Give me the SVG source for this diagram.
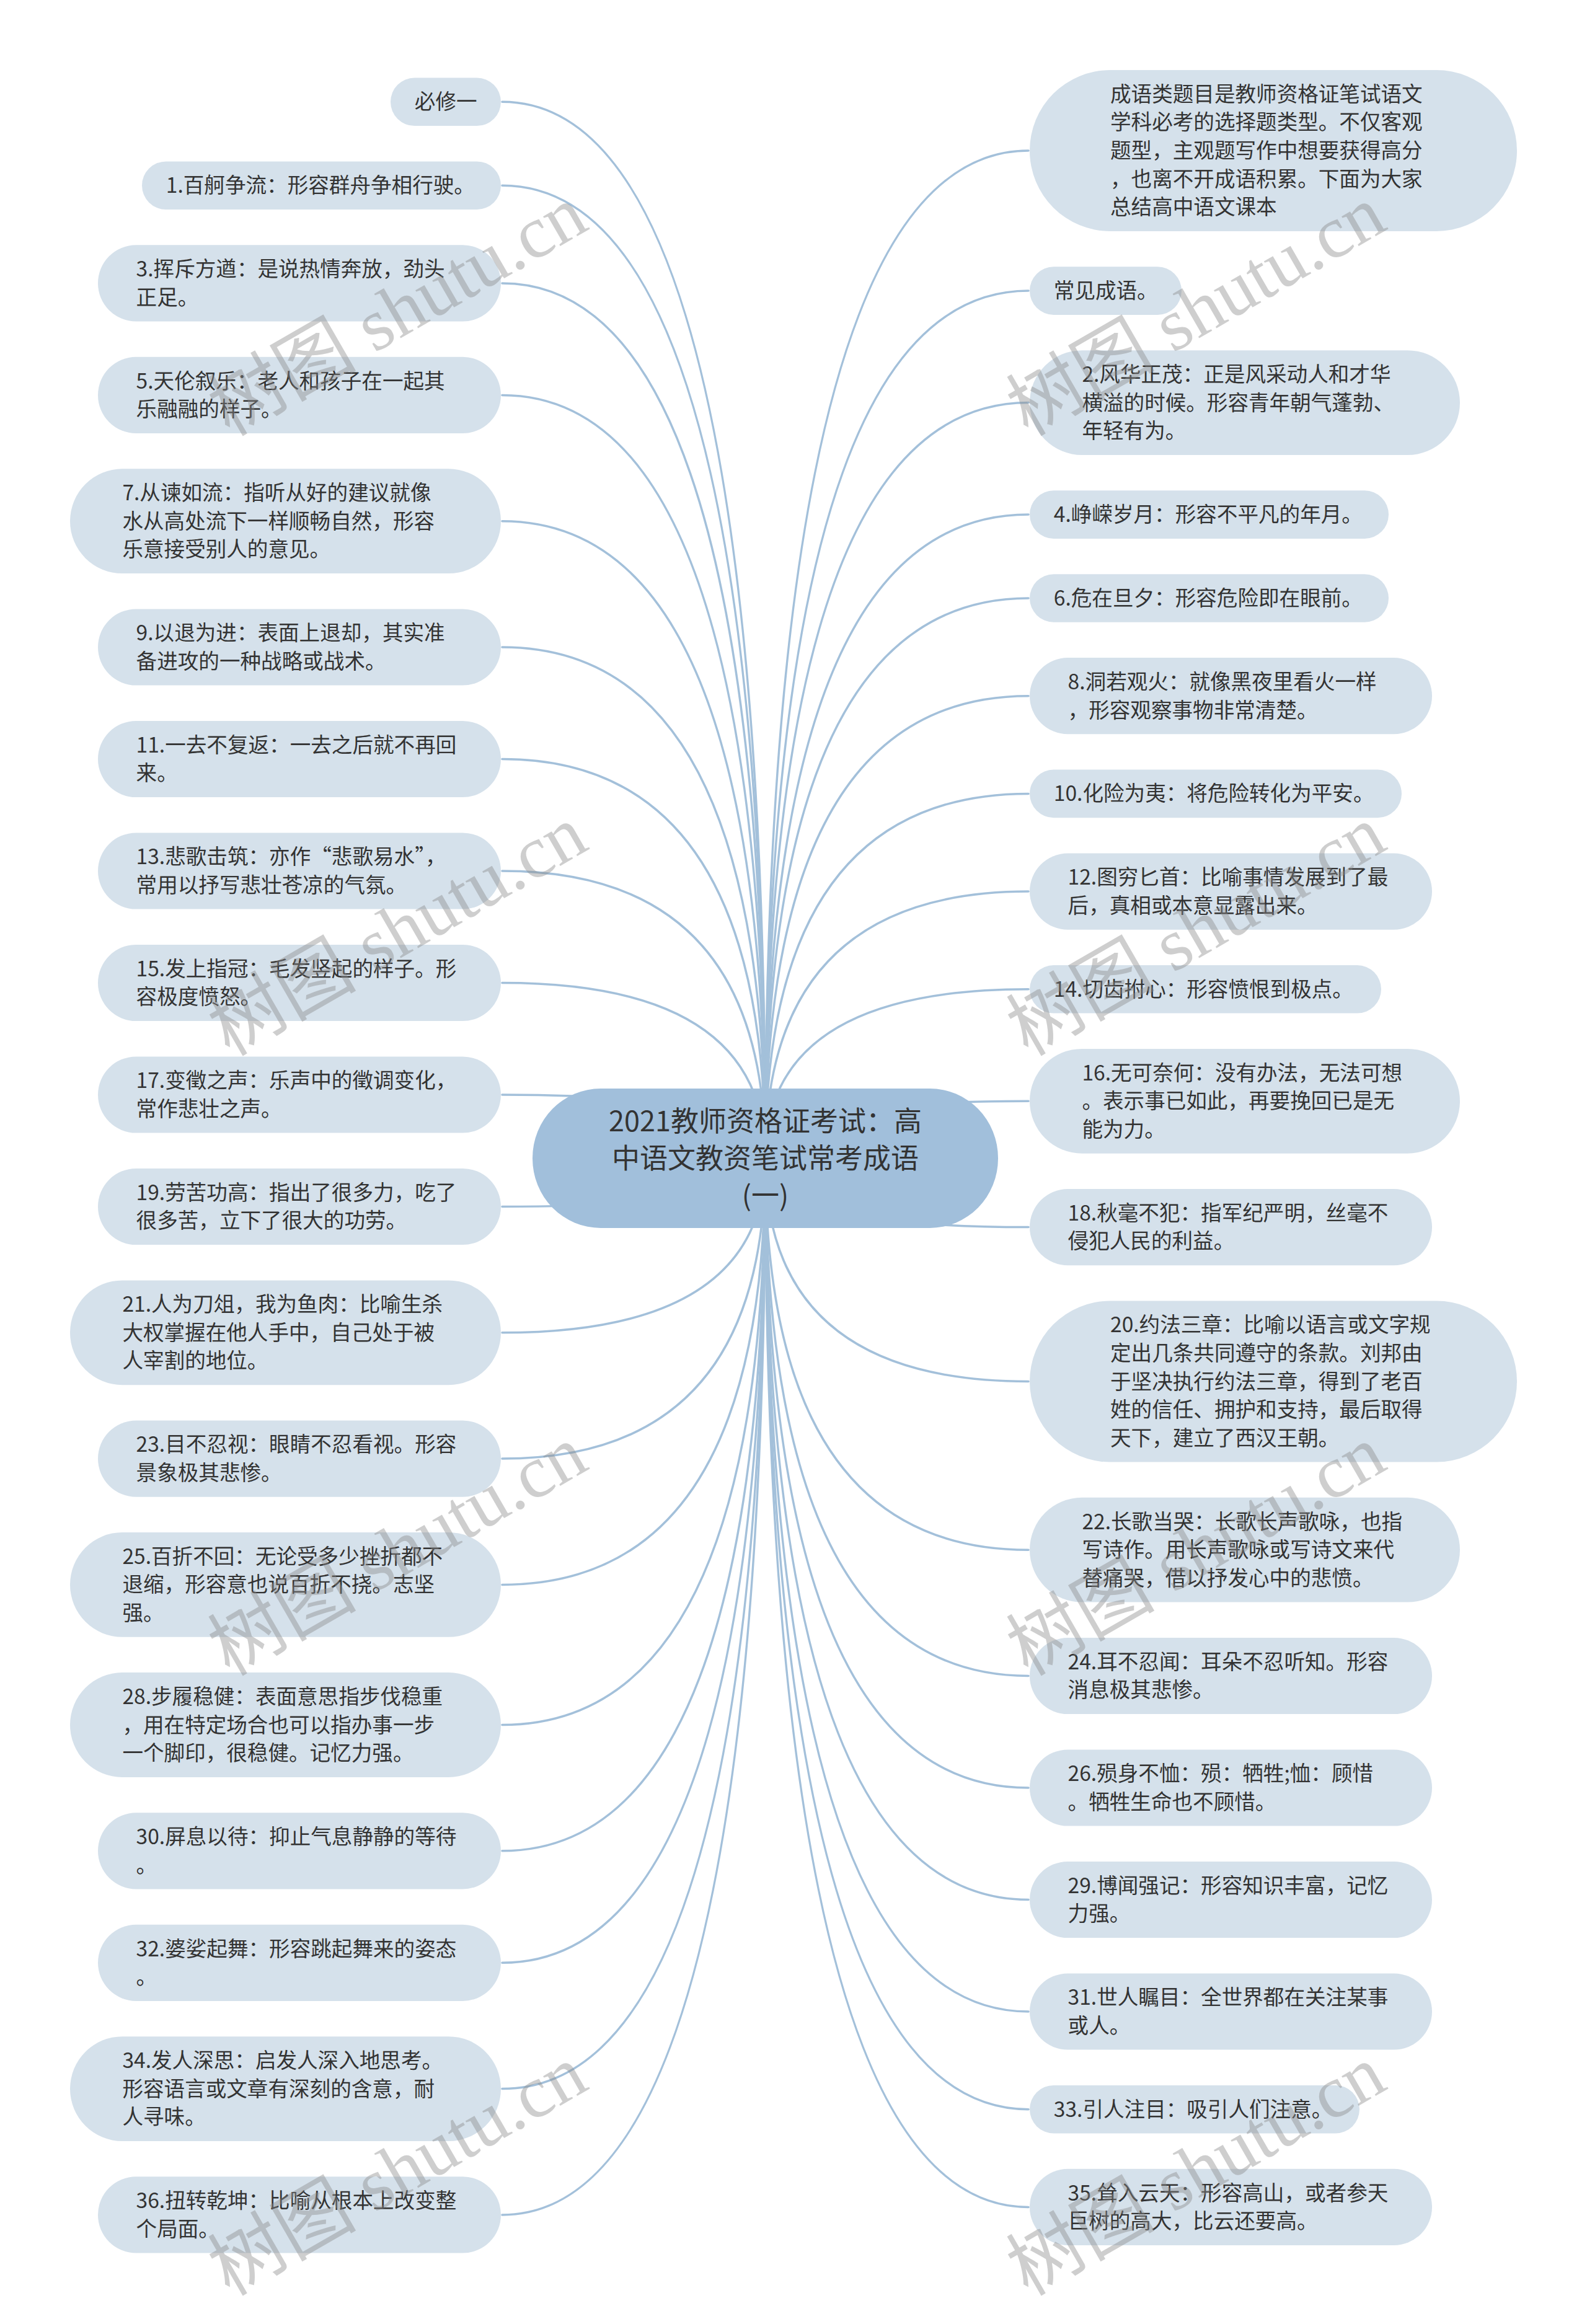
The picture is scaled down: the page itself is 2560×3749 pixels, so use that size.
<svg xmlns="http://www.w3.org/2000/svg" width="2560" height="3749" viewBox="0 0 2560 3749">
<style>
.bg{fill:#ffffff}
.n{fill:#d5e1eb}
.root{fill:#a1bfdb}
.t{font-family:"Noto Sans CJK SC","Noto Sans",sans-serif;font-size:33.6px;fill:#333333}
.rt{font-family:"Noto Sans CJK SC","Noto Sans",sans-serif;font-size:45px;fill:#333333;text-anchor:middle}
.c{fill:none;stroke:#a3c0da;stroke-width:3.5;stroke-linecap:round}
.wm{font-family:"Liberation Serif","Noto Sans CJK SC",serif;font-size:120px;fill:#8a8a8a;fill-opacity:0.42}
</style>
<rect class="bg" x="0" y="0" width="2560" height="3749"/>
<g id="connectors">
<path class="c" d="M1234.5 1868.5 Q1234.5 164.3 810 164.3"/>
<path class="c" d="M1234.5 1868.5 Q1234.5 299.2 810 299.2"/>
<path class="c" d="M1234.5 1868.5 Q1234.5 456.9 810 456.9"/>
<path class="c" d="M1234.5 1868.5 Q1234.5 637.4 810 637.4"/>
<path class="c" d="M1234.5 1868.5 Q1234.5 840.7 810 840.7"/>
<path class="c" d="M1234.5 1868.5 Q1234.5 1044 810 1044"/>
<path class="c" d="M1234.5 1868.5 Q1234.5 1224.5 810 1224.5"/>
<path class="c" d="M1234.5 1868.5 Q1234.5 1405 810 1405"/>
<path class="c" d="M1234.5 1868.5 Q1234.5 1585.5 810 1585.5"/>
<path class="c" d="M1234.5 1868.5 Q1234.5 1766 810 1766"/>
<path class="c" d="M1234.5 1868.5 Q1234.5 1946.5 810 1946.5"/>
<path class="c" d="M1234.5 1868.5 Q1234.5 2149.8 810 2149.8"/>
<path class="c" d="M1234.5 1868.5 Q1234.5 2353.1 810 2353.1"/>
<path class="c" d="M1234.5 1868.5 Q1234.5 2556.4 810 2556.4"/>
<path class="c" d="M1234.5 1868.5 Q1234.5 2782.5 810 2782.5"/>
<path class="c" d="M1234.5 1868.5 Q1234.5 2985.8 810 2985.8"/>
<path class="c" d="M1234.5 1868.5 Q1234.5 3166.3 810 3166.3"/>
<path class="c" d="M1234.5 1868.5 Q1234.5 3369.6 810 3369.6"/>
<path class="c" d="M1234.5 1868.5 Q1234.5 3572.9 810 3572.9"/>
<path class="c" d="M1234.5 1868.5 Q1234.5 243 1659 243"/>
<path class="c" d="M1234.5 1868.5 Q1234.5 469.1 1659 469.1"/>
<path class="c" d="M1234.5 1868.5 Q1234.5 649.6 1659 649.6"/>
<path class="c" d="M1234.5 1868.5 Q1234.5 830.1 1659 830.1"/>
<path class="c" d="M1234.5 1868.5 Q1234.5 965 1659 965"/>
<path class="c" d="M1234.5 1868.5 Q1234.5 1122.7 1659 1122.7"/>
<path class="c" d="M1234.5 1868.5 Q1234.5 1280.4 1659 1280.4"/>
<path class="c" d="M1234.5 1868.5 Q1234.5 1438.1 1659 1438.1"/>
<path class="c" d="M1234.5 1868.5 Q1234.5 1595.8 1659 1595.8"/>
<path class="c" d="M1234.5 1868.5 Q1234.5 1776.3 1659 1776.3"/>
<path class="c" d="M1234.5 1868.5 Q1234.5 1979.6 1659 1979.6"/>
<path class="c" d="M1234.5 1868.5 Q1234.5 2228.5 1659 2228.5"/>
<path class="c" d="M1234.5 1868.5 Q1234.5 2500.2 1659 2500.2"/>
<path class="c" d="M1234.5 1868.5 Q1234.5 2703.5 1659 2703.5"/>
<path class="c" d="M1234.5 1868.5 Q1234.5 2884 1659 2884"/>
<path class="c" d="M1234.5 1868.5 Q1234.5 3064.5 1659 3064.5"/>
<path class="c" d="M1234.5 1868.5 Q1234.5 3245 1659 3245"/>
<path class="c" d="M1234.5 1868.5 Q1234.5 3402.7 1659 3402.7"/>
<path class="c" d="M1234.5 1868.5 Q1234.5 3560.4 1659 3560.4"/>
</g>
<g id="root">
<rect class="root" x="859" y="1756" width="751" height="225" rx="110" ry="112"/>
<text class="rt" x="1234.5" y="1824.5">2021教师资格证考试：高</text>
<text class="rt" x="1234.5" y="1884.5">中语文教资笔试常考成语</text>
<text class="rt" x="1234.5" y="1944.5">(一)</text>
</g>
<g id="node-L0"><rect class="n" x="630" y="125.5" width="178" height="77.6" rx="38.8"/><text class="t" x="668.8" y="176.3">必修一</text></g>
<g id="node-L1"><rect class="n" x="229" y="260.4" width="579" height="77.6" rx="38.8"/><text class="t" x="267.8" y="311.2">1.百舸争流：形容群舟争相行驶。</text></g>
<g id="node-L2"><rect class="n" x="158" y="395.3" width="650" height="123.2" rx="61.6"/><text class="t" x="219.6" y="446.1">3.挥斥方遒：是说热情奔放，劲头</text><text class="t" x="219.6" y="491.7">正足。</text></g>
<g id="node-L3"><rect class="n" x="158" y="575.8" width="650" height="123.2" rx="61.6"/><text class="t" x="219.6" y="626.6">5.天伦叙乐：老人和孩子在一起其</text><text class="t" x="219.6" y="672.2">乐融融的样子。</text></g>
<g id="node-L4"><rect class="n" x="113" y="756.3" width="695" height="168.8" rx="84.4"/><text class="t" x="197.4" y="807.1">7.从谏如流：指听从好的建议就像</text><text class="t" x="197.4" y="852.7">水从高处流下一样顺畅自然，形容</text><text class="t" x="197.4" y="898.3">乐意接受别人的意见。</text></g>
<g id="node-L5"><rect class="n" x="158" y="982.4" width="650" height="123.2" rx="61.6"/><text class="t" x="219.6" y="1033.2">9.以退为进：表面上退却，其实准</text><text class="t" x="219.6" y="1078.8">备进攻的一种战略或战术。</text></g>
<g id="node-L6"><rect class="n" x="158" y="1162.9" width="650" height="123.2" rx="61.6"/><text class="t" x="219.6" y="1213.7">11.一去不复返：一去之后就不再回</text><text class="t" x="219.6" y="1259.3">来。</text></g>
<g id="node-L7"><rect class="n" x="158" y="1343.4" width="650" height="123.2" rx="61.6"/><text class="t" x="219.6" y="1394.2">13.悲歌击筑：亦作“悲歌易水”，</text><text class="t" x="219.6" y="1439.8">常用以抒写悲壮苍凉的气氛。</text></g>
<g id="node-L8"><rect class="n" x="158" y="1523.9" width="650" height="123.2" rx="61.6"/><text class="t" x="219.6" y="1574.7">15.发上指冠：毛发竖起的样子。形</text><text class="t" x="219.6" y="1620.3">容极度愤怒。</text></g>
<g id="node-L9"><rect class="n" x="158" y="1704.4" width="650" height="123.2" rx="61.6"/><text class="t" x="219.6" y="1755.2">17.变徵之声：乐声中的徵调变化，</text><text class="t" x="219.6" y="1800.8">常作悲壮之声。</text></g>
<g id="node-L10"><rect class="n" x="158" y="1884.9" width="650" height="123.2" rx="61.6"/><text class="t" x="219.6" y="1935.7">19.劳苦功高：指出了很多力，吃了</text><text class="t" x="219.6" y="1981.3">很多苦，立下了很大的功劳。</text></g>
<g id="node-L11"><rect class="n" x="113" y="2065.4" width="695" height="168.8" rx="84.4"/><text class="t" x="197.4" y="2116.2">21.人为刀俎，我为鱼肉：比喻生杀</text><text class="t" x="197.4" y="2161.8">大权掌握在他人手中，自己处于被</text><text class="t" x="197.4" y="2207.4">人宰割的地位。</text></g>
<g id="node-L12"><rect class="n" x="158" y="2291.5" width="650" height="123.2" rx="61.6"/><text class="t" x="219.6" y="2342.3">23.目不忍视：眼睛不忍看视。形容</text><text class="t" x="219.6" y="2387.9">景象极其悲惨。</text></g>
<g id="node-L13"><rect class="n" x="113" y="2472" width="695" height="168.8" rx="84.4"/><text class="t" x="197.4" y="2522.8">25.百折不回：无论受多少挫折都不</text><text class="t" x="197.4" y="2568.4">退缩，形容意也说百折不挠。志坚</text><text class="t" x="197.4" y="2614">强。</text></g>
<g id="node-L14"><rect class="n" x="113" y="2698.1" width="695" height="168.8" rx="84.4"/><text class="t" x="197.4" y="2748.9">28.步履稳健：表面意思指步伐稳重</text><text class="t" x="197.4" y="2794.5">，用在特定场合也可以指办事一步</text><text class="t" x="197.4" y="2840.1">一个脚印，很稳健。记忆力强。</text></g>
<g id="node-L15"><rect class="n" x="158" y="2924.2" width="650" height="123.2" rx="61.6"/><text class="t" x="219.6" y="2975">30.屏息以待：抑止气息静静的等待</text><text class="t" x="219.6" y="3020.6">。</text></g>
<g id="node-L16"><rect class="n" x="158" y="3104.7" width="650" height="123.2" rx="61.6"/><text class="t" x="219.6" y="3155.5">32.婆娑起舞：形容跳起舞来的姿态</text><text class="t" x="219.6" y="3201.1">。</text></g>
<g id="node-L17"><rect class="n" x="113" y="3285.2" width="695" height="168.8" rx="84.4"/><text class="t" x="197.4" y="3336">34.发人深思：启发人深入地思考。</text><text class="t" x="197.4" y="3381.6">形容语言或文章有深刻的含意，耐</text><text class="t" x="197.4" y="3427.2">人寻味。</text></g>
<g id="node-L18"><rect class="n" x="158" y="3511.3" width="650" height="123.2" rx="61.6"/><text class="t" x="219.6" y="3562.1">36.扭转乾坤：比喻从根本上改变整</text><text class="t" x="219.6" y="3607.7">个局面。</text></g>
<g id="node-R0"><rect class="n" x="1661" y="113" width="786" height="260" rx="130"/><text class="t" x="1791" y="163.8">成语类题目是教师资格证笔试语文</text><text class="t" x="1791" y="209.4">学科必考的选择题类型。不仅客观</text><text class="t" x="1791" y="255">题型，主观题写作中想要获得高分</text><text class="t" x="1791" y="300.6">，也离不开成语积累。下面为大家</text><text class="t" x="1791" y="346.2">总结高中语文课本</text></g>
<g id="node-R1"><rect class="n" x="1661" y="430.3" width="245" height="77.6" rx="38.8"/><text class="t" x="1699.8" y="481.1">常见成语。</text></g>
<g id="node-R2"><rect class="n" x="1661" y="565.2" width="694" height="168.8" rx="84.4"/><text class="t" x="1745.4" y="616">2.风华正茂：正是风采动人和才华</text><text class="t" x="1745.4" y="661.6">横溢的时候。形容青年朝气蓬勃、</text><text class="t" x="1745.4" y="707.2">年轻有为。</text></g>
<g id="node-R3"><rect class="n" x="1661" y="791.3" width="579" height="77.6" rx="38.8"/><text class="t" x="1699.8" y="842.1">4.峥嵘岁月：形容不平凡的年月。</text></g>
<g id="node-R4"><rect class="n" x="1661" y="926.2" width="579" height="77.6" rx="38.8"/><text class="t" x="1699.8" y="977">6.危在旦夕：形容危险即在眼前。</text></g>
<g id="node-R5"><rect class="n" x="1661" y="1061.1" width="649" height="123.2" rx="61.6"/><text class="t" x="1722.6" y="1111.9">8.洞若观火：就像黑夜里看火一样</text><text class="t" x="1722.6" y="1157.5">，形容观察事物非常清楚。</text></g>
<g id="node-R6"><rect class="n" x="1661" y="1241.6" width="600" height="77.6" rx="38.8"/><text class="t" x="1699.8" y="1292.4">10.化险为夷：将危险转化为平安。</text></g>
<g id="node-R7"><rect class="n" x="1661" y="1376.5" width="649" height="123.2" rx="61.6"/><text class="t" x="1722.6" y="1427.3">12.图穷匕首：比喻事情发展到了最</text><text class="t" x="1722.6" y="1472.9">后，真相或本意显露出来。</text></g>
<g id="node-R8"><rect class="n" x="1661" y="1557" width="567" height="77.6" rx="38.8"/><text class="t" x="1699.8" y="1607.8">14.切齿拊心：形容愤恨到极点。</text></g>
<g id="node-R9"><rect class="n" x="1661" y="1691.9" width="694" height="168.8" rx="84.4"/><text class="t" x="1745.4" y="1742.7">16.无可奈何：没有办法，无法可想</text><text class="t" x="1745.4" y="1788.3">。表示事已如此，再要挽回已是无</text><text class="t" x="1745.4" y="1833.9">能为力。</text></g>
<g id="node-R10"><rect class="n" x="1661" y="1918" width="649" height="123.2" rx="61.6"/><text class="t" x="1722.6" y="1968.8">18.秋毫不犯：指军纪严明，丝毫不</text><text class="t" x="1722.6" y="2014.4">侵犯人民的利益。</text></g>
<g id="node-R11"><rect class="n" x="1661" y="2098.5" width="786" height="260" rx="130"/><text class="t" x="1791" y="2149.3">20.约法三章：比喻以语言或文字规</text><text class="t" x="1791" y="2194.9">定出几条共同遵守的条款。刘邦由</text><text class="t" x="1791" y="2240.5">于坚决执行约法三章，得到了老百</text><text class="t" x="1791" y="2286.1">姓的信任、拥护和支持，最后取得</text><text class="t" x="1791" y="2331.7">天下，建立了西汉王朝。</text></g>
<g id="node-R12"><rect class="n" x="1661" y="2415.8" width="694" height="168.8" rx="84.4"/><text class="t" x="1745.4" y="2466.6">22.长歌当哭：长歌长声歌咏，也指</text><text class="t" x="1745.4" y="2512.2">写诗作。用长声歌咏或写诗文来代</text><text class="t" x="1745.4" y="2557.8">替痛哭，借以抒发心中的悲愤。</text></g>
<g id="node-R13"><rect class="n" x="1661" y="2641.9" width="649" height="123.2" rx="61.6"/><text class="t" x="1722.6" y="2692.7">24.耳不忍闻：耳朵不忍听知。形容</text><text class="t" x="1722.6" y="2738.3">消息极其悲惨。</text></g>
<g id="node-R14"><rect class="n" x="1661" y="2822.4" width="649" height="123.2" rx="61.6"/><text class="t" x="1722.6" y="2873.2">26.殒身不恤：殒：牺牲;恤：顾惜</text><text class="t" x="1722.6" y="2918.8">。牺牲生命也不顾惜。</text></g>
<g id="node-R15"><rect class="n" x="1661" y="3002.9" width="649" height="123.2" rx="61.6"/><text class="t" x="1722.6" y="3053.7">29.博闻强记：形容知识丰富，记忆</text><text class="t" x="1722.6" y="3099.3">力强。</text></g>
<g id="node-R16"><rect class="n" x="1661" y="3183.4" width="649" height="123.2" rx="61.6"/><text class="t" x="1722.6" y="3234.2">31.世人瞩目：全世界都在关注某事</text><text class="t" x="1722.6" y="3279.8">或人。</text></g>
<g id="node-R17"><rect class="n" x="1661" y="3363.9" width="532" height="77.6" rx="38.8"/><text class="t" x="1699.8" y="3414.7">33.引人注目：吸引人们注意。</text></g>
<g id="node-R18"><rect class="n" x="1661" y="3498.8" width="649" height="123.2" rx="61.6"/><text class="t" x="1722.6" y="3549.6">35.耸入云天：形容高山，或者参天</text><text class="t" x="1722.6" y="3595.2">巨树的高大，比云还要高。</text></g>
<g id="watermarks">
<text class="wm" transform="translate(370 705) rotate(-30)">树图 shutu.cn</text>
<text class="wm" transform="translate(370 1705) rotate(-30)">树图 shutu.cn</text>
<text class="wm" transform="translate(370 2705) rotate(-30)">树图 shutu.cn</text>
<text class="wm" transform="translate(370 3705) rotate(-30)">树图 shutu.cn</text>
<text class="wm" transform="translate(1658 705) rotate(-30)">树图 shutu.cn</text>
<text class="wm" transform="translate(1658 1705) rotate(-30)">树图 shutu.cn</text>
<text class="wm" transform="translate(1658 2705) rotate(-30)">树图 shutu.cn</text>
<text class="wm" transform="translate(1658 3705) rotate(-30)">树图 shutu.cn</text>
</g>
</svg>
